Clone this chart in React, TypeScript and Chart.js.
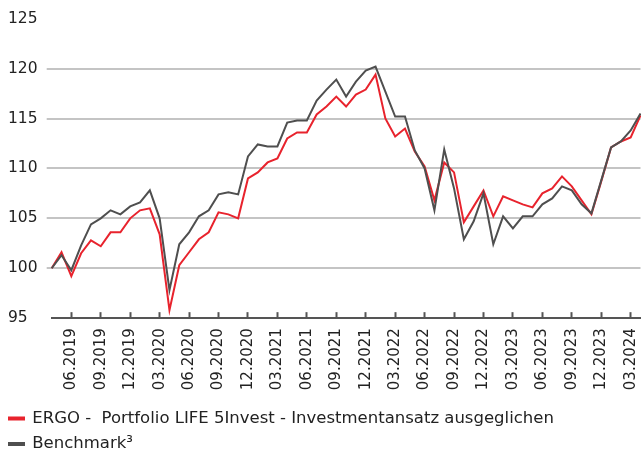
import React, { useEffect, useRef } from "react";
import { Chart, registerables } from "chart.js";

Chart.register(...registerables);

const months = [
  "04.2019", "05.2019", "06.2019", "07.2019", "08.2019", "09.2019", "10.2019", "11.2019", "12.2019",
  "01.2020", "02.2020", "03.2020", "04.2020", "05.2020", "06.2020", "07.2020", "08.2020", "09.2020", "10.2020", "11.2020", "12.2020",
  "01.2021", "02.2021", "03.2021", "04.2021", "05.2021", "06.2021", "07.2021", "08.2021", "09.2021", "10.2021", "11.2021", "12.2021",
  "01.2022", "02.2022", "03.2022", "04.2022", "05.2022", "06.2022", "07.2022", "08.2022", "09.2022", "10.2022", "11.2022", "12.2022",
  "01.2023", "02.2023", "03.2023", "04.2023", "05.2023", "06.2023", "07.2023", "08.2023", "09.2023", "10.2023", "11.2023", "12.2023",
  "01.2024", "02.2024", "03.2024", "04.2024",
];

const tickLabels = [
  "06.2019", "09.2019", "12.2019", "03.2020", "06.2020", "09.2020", "12.2020",
  "03.2021", "06.2021", "09.2021", "12.2021", "03.2022", "06.2022", "09.2022",
  "12.2022", "03.2023", "06.2023", "09.2023", "12.2023", "03.2024",
];

const portfolio = [
  100.0, 101.6, 99.2, 101.5, 102.8, 102.2, 103.6, 103.6, 105.0, 105.8, 106.0, 103.4, 95.8,
  100.3, 101.6, 102.9, 103.6, 105.6, 105.4, 105.0, 109.0, 109.6, 110.6, 111.0, 113.0,
  113.6, 113.6, 115.4, 116.2, 117.2, 116.2, 117.4, 117.9, 119.4, 115.0, 113.2, 114.0,
  111.7, 110.2, 106.8, 110.6, 109.6, 104.6, 106.2, 107.8, 105.2, 107.2, 106.8, 106.4,
  106.1, 107.5, 108.0, 109.2, 108.2, 106.8, 105.4, 108.7, 112.1, 112.7, 113.1, 115.3,
];

const benchmark = [
  100.0, 101.3, 99.8, 102.3, 104.4, 105.0, 105.8, 105.4, 106.2, 106.6, 107.8, 105.0, 97.8,
  102.4, 103.6, 105.2, 105.8, 107.4, 107.6, 107.4, 111.2, 112.4, 112.2, 112.2, 114.6,
  114.8, 114.8, 116.8, 117.9, 118.9, 117.2, 118.7, 119.8, 120.2, 117.7, 115.2, 115.2,
  111.8, 110.0, 105.8, 111.9, 108.0, 102.9, 104.7, 107.5, 102.4, 105.2, 104.0, 105.2,
  105.2, 106.4, 107.0, 108.2, 107.8, 106.4, 105.5, 108.8, 112.1, 112.7, 113.8, 115.5,
];

const seriesNames = [
  "ERGO -  Portfolio LIFE 5Invest - Investmentansatz ausgeglichen",
  "Benchmark³",
];

const yTicks = [95, 100, 105, 110, 115, 120, 125];

const RED = "#e8232d";
const GRAY = "#4f4f4f";
const FONT = "'DejaVu Sans', sans-serif";

export default function App() {
  const ref = useRef<HTMLCanvasElement | null>(null);

  useEffect(() => {
    if (!ref.current) return;
    const chart = new Chart(ref.current, {
      type: "line",
      data: {
        labels: months,
        datasets: [
          {
            label: seriesNames[0],
            data: portfolio,
            borderColor: RED,
            backgroundColor: RED,
            borderWidth: 2,
            pointRadius: 0,
            tension: 0,
            order: 1,
          },
          {
            label: seriesNames[1],
            data: benchmark,
            borderColor: GRAY,
            backgroundColor: GRAY,
            borderWidth: 2,
            pointRadius: 0,
            tension: 0,
            order: 0,
          },
        ],
      },
      options: {
        animation: false,
        responsive: true,
        maintainAspectRatio: false,
        layout: { padding: { top: 18.7, right: 0.5, left: 0, bottom: -7.2 } },
        plugins: {
          tooltip: { enabled: false },
          legend: {
            position: "bottom",
            align: "start",
            labels: {
              sort: (a: any, b: any) => a.datasetIndex - b.datasetIndex,
              boxWidth: 15,
              boxHeight: 2,
              padding: 9,
              color: "#222",
              font: { family: FONT, size: 16.5 },
            },
          },
        },
        scales: {
          x: {
            type: "category",
            offset: false,
            afterBuildTicks: (s: any) => {
              s.ticks = s.ticks.filter((t: any) => tickLabels.includes(months[t.value]));
            },
            afterFit: (s: any) => {
              s.height = 83.05;
              s.paddingRight = 0;
              s.paddingLeft = 0;
            },
            border: { display: true, color: "#555", width: 2 },
            grid: {
              drawOnChartArea: false,
              drawTicks: true,
              tickLength: -6,
              tickWidth: 2,
              tickColor: "#555",
            },
            ticks: {
              autoSkip: false,
              maxRotation: 90,
              minRotation: 90,
              padding: 16,
              color: "#222",
              font: { family: FONT, size: 15 },
              callback: (v: any) => months[v],
            },
          },
          yPad: {
            type: "linear",
            position: "left",
            weight: 1,
            display: true,
            afterFit: (s: any) => {
              s.width = 8;
            },
            grid: { display: false },
            border: { display: false },
            ticks: { display: false },
          },
          y: {
            type: "linear",
            position: "left",
            weight: 0,
            min: yTicks[0],
            max: yTicks[yTicks.length - 1],
            afterFit: (s: any) => {
              s.width = 43.7;
            },
            afterBuildTicks: (s: any) => {
              s.ticks = yTicks.map((v) => ({ value: v }));
            },
            border: { display: false },
            grid: {
              lineWidth: 2,
              tickLength: 5,
              color: (ctx: any) =>
                ctx.tick && (ctx.tick.value === 125 || ctx.tick.value === 95)
                  ? "rgba(0,0,0,0)"
                  : "#c4c4c4",
            },
            ticks: {
              crossAlign: "far",
              padding: 8,
              color: "#222",
              font: { family: FONT, size: 15.5 },
            },
          },
        },
      },
    });
    return () => chart.destroy();
  }, []);

  return (
    <div style={{ position: "absolute", left: 0, top: 0, width: 641, height: 455, overflow: "hidden" }}>
      <canvas ref={ref} />
    </div>
  );
}
